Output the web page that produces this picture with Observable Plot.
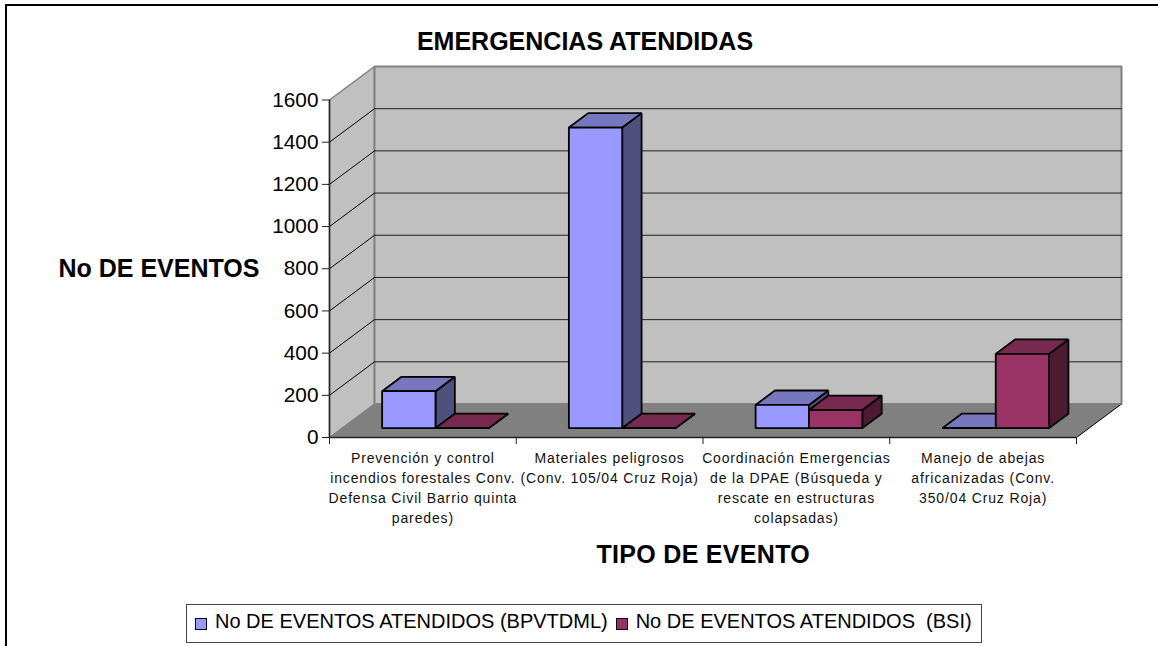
<!DOCTYPE html>
<html>
<head>
<meta charset="utf-8">
<script src="https://cdn.jsdelivr.net/npm/d3@7"></script>
<script src="https://cdn.jsdelivr.net/npm/@observablehq/plot@0.6"></script>
<style>
html,body{margin:0;padding:0;background:#fff;font-family:"Liberation Sans",Arial,sans-serif;color:#000;overflow:hidden}
#page{position:relative;width:1158px;height:646px;overflow:hidden}
#frame{position:absolute;left:5px;top:4px;width:1200px;height:700px;border:2px solid #000}
#title{position:absolute;left:0;top:26px;width:1170px;text-align:center;font-weight:bold;font-size:25px;line-height:30px;letter-spacing:0}
#chart{position:absolute;left:0;top:58px}
#legend{position:absolute;left:186px;top:604px;width:794px;height:33px;border:1px solid #444;display:flex;align-items:center;font-size:20px;white-space:nowrap;box-sizing:content-box;padding-bottom:4px}
#legend .sw{display:inline-block;width:10px;height:10px;border:1.5px solid #000;margin:5px 8px 0 8px;flex:none}
.catlabel text{letter-spacing:.85px}
.xlabel text{letter-spacing:.3px}
</style>
</head>
<body>
<div id="page">
<div id="frame"></div>
<div id="title"></div>
<div id="chart"></div>
<div id="legend"></div>
</div>
<script>
const titleText = "EMERGENCIAS ATENDIDAS";
const yLabel = "No DE EVENTOS";
const xLabel = "TIPO DE EVENTO";
const categories = [
  "Prevención y control\nincendios forestales Conv.\nDefensa Civil Barrio quinta\nparedes)",
  "Materiales peligrosos\n(Conv. 105/04 Cruz Roja)",
  "Coordinación Emergencias\nde la DPAE (Búsqueda y\nrescate en estructuras\ncolapsadas)",
  "Manejo de abejas\nafricanizadas (Conv.\n350/04 Cruz Roja)"
];
const seriesNames = ["No DE EVENTOS ATENDIDOS (BPVTDML)", "No DE EVENTOS ATENDIDOS  (BSI)"];
const bpvtdml = [175, 1425, 110, 0];
const bsi = [0, 0, 86, 352];
const yTicks = [0, 200, 400, 600, 800, 1000, 1200, 1400, 1600];
const blueFaces = {front:"#9999FF", top:"#7777BF", side:"#50507F"};
const redFaces = {front:"#993366", top:"#77294F", side:"#4D1A33"};

// oblique projection expressed in data units: depth 0 = front plane, 1 = back wall
const depthX = 0.241, depthY = 158.8;
const P = (c, v, d) => ({x: c + d * depthX, y: v + d * depthY});
const poly = (pts, fill, stroke, strokeWidth = 1) =>
  Plot.line(pts, {x: "x", y: "y", fill, stroke, strokeWidth, curve: "linear-closed", strokeLinejoin: "miter"});

const nCat = categories.length, yMax = d3.max(yTicks);
const barW = 1 / 3.5, d0 = 0.28, d1 = 0.71;

function bar(c, s, v, col) {
  const a = c + 0.5 + (s - 1) * barW, b = a + barW;
  return [
    poly([P(b,0,d0),P(b,0,d1),P(b,v,d1),P(b,v,d0)], col.side, "#000", 1.8),
    poly([P(a,v,d0),P(b,v,d0),P(b,v,d1),P(a,v,d1)], col.top, "#000", 1.8),
    poly([P(a,0,d0),P(b,0,d0),P(b,v,d0),P(a,v,d0)], col.front, "#000", 1.8)
  ];
}

const marks = [
  // walls
  poly([P(0,0,0),P(0,0,1),P(0,yMax,1),P(0,yMax,0)], "#C0C0C0", "#808080", 1.5),
  poly([P(0,0,1),P(nCat,0,1),P(nCat,yMax,1),P(0,yMax,1)], "#C0C0C0", "#808080", 2),
  // gridlines
  ...yTicks.filter(t => t > 0 && t < yMax).flatMap(t => [
    Plot.line([P(0,t,0),P(0,t,1)], {x:"x", y:"y", stroke:"#000", strokeWidth:1}),
    Plot.line([P(0,t,1),P(nCat,t,1)], {x:"x", y:"y", stroke:"#222", strokeWidth:1})
  ]),
  // floor
  poly([P(0,0,0),P(nCat,0,0),P(nCat,0,1),P(0,0,1)], "#808080", "none"),
  Plot.line([P(nCat,0,0),P(nCat,0,1)], {x:"x", y:"y", stroke:"#000", strokeWidth:1}),
  Plot.line([P(0,0,1),P(nCat,0,1)], {x:"x", y:"y", stroke:"#808080", strokeWidth:1}),
  // bars, back to front
  ...categories.flatMap((_, c) => [...bar(c, 0, bpvtdml[c], blueFaces), ...bar(c, 1, bsi[c], redFaces)]),
  // axes
  Plot.ruleX([0], {stroke:"#222", strokeWidth:1.5}),
  Plot.ruleY([0], {stroke:"#222", strokeWidth:1.5}),
  Plot.axisY({ticks: yTicks, tickSize: 7, tickPadding: 4, fontSize: 20.8, label: null, stroke:"#222", tickFormat: d => String(d)}),
  Plot.axisX({ticks: d3.range(nCat + 1), tickSize: 7, tickFormat: () => "", label: null, stroke:"#222"}),
  Plot.text(categories, {x: (_, i) => i + 0.5, y: 0, dy: 11, lineAnchor: "top", lineHeight: 1.43, fontSize: 14, fill:"#111", className:"catlabel"}),
  Plot.text([yLabel], {frameAnchor:"left", dx:-271, dy:0, textAnchor:"start", fontSize:25, fontWeight:"bold"}),
  Plot.text([xLabel], {frameAnchor:"bottom-left", dx:267, dy:125, textAnchor:"start", fontSize:25, fontWeight:"bold", className:"xlabel"})
];

const chart = Plot.plot({
  width: 1158, height: 542,
  marginLeft: 329, marginRight: 82, marginTop: 41.5, marginBottom: 163,
  style: {background:"transparent", fontFamily:'"Liberation Sans",Arial,sans-serif', overflow:"visible"},
  x: {domain: [0, nCat], axis: null},
  y: {domain: [0, yMax], axis: null},
  marks
});
document.getElementById("chart").append(chart);
document.getElementById("title").textContent = titleText;
const legend = document.getElementById("legend");
[blueFaces.front, redFaces.front].forEach((c, i) => {
  const sw = document.createElement("span"); sw.className = "sw"; sw.style.background = c;
  const tx = document.createElement("span"); tx.textContent = seriesNames[i]; tx.style.whiteSpace = "pre";
  legend.append(sw, tx);
});
</script>
</body>
</html>
